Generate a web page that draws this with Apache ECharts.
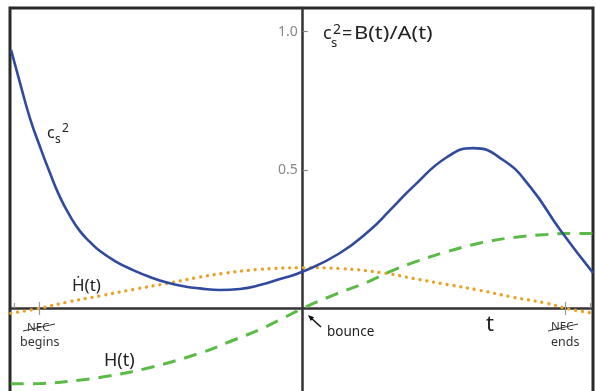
<!DOCTYPE html>
<html>
<head>
<meta charset="utf-8">
<script src="https://cdn.jsdelivr.net/npm/echarts@6/dist/echarts.min.js"></script>
<style>
html, body { margin: 0; padding: 0; background: #fff; }
#main { width: 596px; height: 391px; }
</style>
</head>
<body>
<div id="main"></div>
<script>
// curves, t scaled so NEC begins at -1 and ends at +1
var csT   = [-1.109, -1.075, -1.037, -0.999, -0.961, -0.923, -0.885, -0.847, -0.809, -0.771, -0.714, -0.645, -0.581, -0.516, -0.448, -0.391, -0.315, -0.239, -0.163, -0.086, 0.001, 0.142, 0.256, 0.332, 0.419, 0.549, 0.648, 0.762, 0.865, 0.979, 1.104];
var csV   = [0.934, 0.815, 0.687, 0.584, 0.489, 0.402, 0.334, 0.279, 0.240, 0.207, 0.171, 0.138, 0.113, 0.093, 0.079, 0.072, 0.066, 0.070, 0.084, 0.106, 0.133, 0.200, 0.283, 0.355, 0.439, 0.547, 0.579, 0.536, 0.439, 0.283, 0.128];
var hdotT = [-1.11, -1.0, -0.897, -0.77, -0.645, -0.516, -0.402, -0.303, -0.174, 0, 0.142, 0.32, 0.419, 0.549, 0.674, 0.8, 0.929, 1.0, 1.104];
var hdotV = [-0.018, 0.0, 0.022, 0.045, 0.068, 0.09, 0.111, 0.126, 0.14, 0.147, 0.144, 0.126, 0.108, 0.086, 0.065, 0.04, 0.018, 0.0, -0.018];
var hT    = [-1.11, -1.0, -0.835, -0.744, -0.58, -0.39, -0.276, -0.162, -0.075, 0, 0.115, 0.244, 0.343, 0.419, 0.549, 0.674, 0.8, 0.929, 1.0, 1.104];
var hV    = [-0.273, -0.272, -0.258, -0.246, -0.214, -0.162, -0.12, -0.076, -0.036, 0, 0.047, 0.094, 0.137, 0.165, 0.205, 0.236, 0.256, 0.267, 0.27, 0.27];
var yTicks = [0.5, 1.0];
var necTicks = [-1, 1];
var edgeTicks = [-1.095, 1.095];

function pairs(xs, ys) {
    var out = [];
    for (let i = 0; i < xs.length; i++) out.push([xs[i], ys[i]]);
    return out;
}

var tickLines = [];
necTicks.forEach(function (t) {
    tickLines.push([{ coord: [t, -0.024] }, { coord: [t, 0.023] }]);
});
edgeTicks.forEach(function (t) {
    tickLines.push([{ coord: [t, 0] }, { coord: [t, 0.019] }]);
});

var FONT = '"Noto Sans", sans-serif';
function txt(s, x, y, size, color, sx) {
    return {
        type: 'text', x: x, y: y, silent: true, scaleX: sx || 1,
        style: { text: s, fontSize: size, fontFamily: FONT, fill: color || '#222', verticalAlign: 'middle' }
    };
}

var chart = echarts.init(document.getElementById('main'));
var option = {
    animation: false,
    backgroundColor: '#fff',
    grid: { left: 10, top: 8, width: 583, height: 392, show: true, borderColor: '#2a2a2a', borderWidth: 3,
        containLabel: false, outerBoundsMode: 'none' },
    xAxis: {
        type: 'value', min: -1.113, max: 1.1037,
        axisLine: { onZero: true, lineStyle: { color: '#333', width: 2.5 } },
        axisTick: { show: false }, axisLabel: { show: false }, splitLine: { show: false }
    },
    yAxis: {
        type: 'value', min: -0.3315, max: 1.0857,
        axisLine: { onZero: true, lineStyle: { color: '#333', width: 2.5 } },
        axisTick: { show: true, inside: true, length: 5, customValues: yTicks, lineStyle: { color: '#888', width: 1.2 } },
        axisLabel: { show: false },
        splitLine: { show: false }
    },
    series: [
        {
            name: 'Hdot', type: 'line', smooth: 0.4, symbol: 'none', data: pairs(hdotT, hdotV),
            lineStyle: { color: '#E9A228', width: 3.3, type: [0.1, 6.8], cap: 'round' },
            markLine: { silent: true, symbol: 'none', label: { show: false },
                lineStyle: { color: '#999', width: 1.2, type: 'solid' }, data: tickLines }
        },
        {
            name: 'H', type: 'line', smooth: 0.4, symbol: 'none', data: pairs(hT, hV),
            lineStyle: { color: '#5CBA47', width: 3, type: [13, 9] }
        },
        {
            name: 'cs2', type: 'line', smooth: 0.5, symbol: 'none', data: pairs(csT, csV),
            lineStyle: { color: '#2F4A9E', width: 2.6 }
        }
    ],
    graphic: [
        // c_s^2 = B(t)/A(t)
        txt('c', 323, 34, 18), txt('s', 331, 43, 13), txt('2', 333, 30, 14),
        txt('=', 342, 34, 18), txt('B(t)/A(t)', 354, 34, 18, '#222', 1.22),
        // c_s^2 label
        txt('c', 47, 133, 16), txt('s', 55, 140, 12), txt('2', 62, 129, 12),
        txt('\u1E22(t)', 72, 286, 17),
        txt('H(t)', 104, 361, 18),
        txt('t', 486, 325, 22),
        txt('bounce', 327, 332, 13.5),
        txt('NEC', 27, 328, 11.5, '#333'), txt('begins', 20, 342, 12.5, '#333'),
        txt('NEC', 551, 327, 11.5, '#333'), txt('ends', 551, 342, 12.5, '#333'),
        { type: 'line', silent: true, shape: { x1: 23, y1: 331, x2: 55, y2: 324 }, style: { stroke: '#333', lineWidth: 1 } },
        { type: 'line', silent: true, shape: { x1: 548, y1: 331, x2: 578, y2: 324 }, style: { stroke: '#333', lineWidth: 1 } },
        // arrow to bounce
        { type: 'line', silent: true, shape: { x1: 321, y1: 327, x2: 311, y2: 318 }, style: { stroke: '#111', lineWidth: 1.5 } },
        { type: 'polygon', silent: true, shape: { points: [[308, 315], [314.1, 317.3], [310.7, 320.9]] }, style: { fill: '#111' } }
    ]
};
chart.setOption(option);

// y tick labels sit beside the zero-crossing axis line
yTicks.forEach(function (v) {
    var p = chart.convertToPixel({ gridIndex: 0 }, [0, v]);
    option.graphic.push({
        type: 'text', x: p[0] - 5, y: p[1], silent: true,
        style: { text: v.toFixed(1), align: 'right', verticalAlign: 'middle', fontSize: 14, fontFamily: FONT, fill: '#888' }
    });
});
chart.setOption(option);
</script>
</body>
</html>
